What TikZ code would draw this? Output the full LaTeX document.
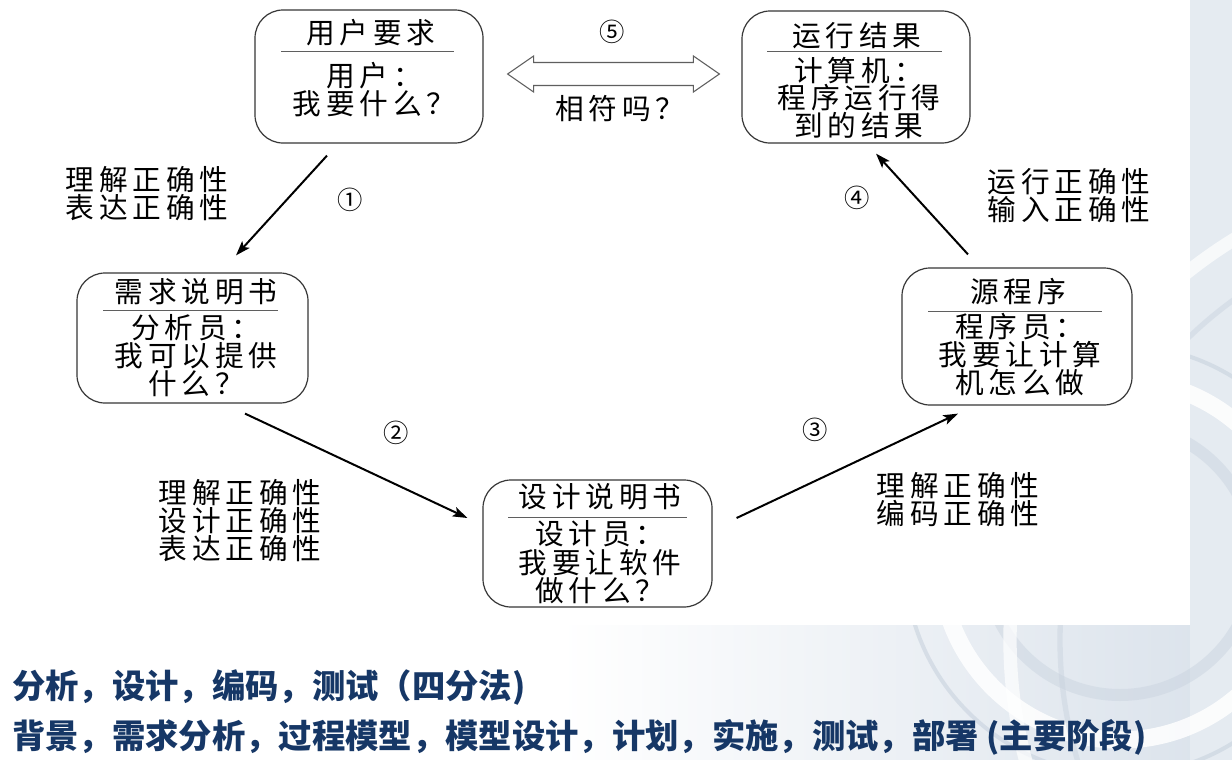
\documentclass[tikz,border=0pt]{standalone}
\usepackage{fontspec}
\setmainfont{Noto Sans CJK SC}
\newfontfamily\stagefont{Noto Sans CJK SC}[LetterSpace=17]
\usetikzlibrary{arrows.meta,calc}
\definecolor{edgegray}{RGB}{55,55,55}
\definecolor{rulegray}{RGB}{95,95,95}
\definecolor{navy}{RGB}{22,55,102}
\definecolor{bgblue}{RGB}{218,226,235}
\definecolor{ringdark}{RGB}{200,210,222}
\begin{document}
\begin{tikzpicture}[x=0.75pt,y=-0.75pt,
  stagebox/.style={draw=edgegray, line width=0.9pt, rounded corners=21pt, fill=white},
  divider/.style={draw=rulegray, line width=0.8pt},
  boxtext/.style={inner sep=0pt, align=center, font=\stagefont\fontsize{21.5pt}{#1}\selectfont},
  boxtext/.default={18.75pt},
  note/.style={inner sep=0pt, align=left, font=\stagefont\fontsize{21.5pt}{21pt}\selectfont},
  stepnum/.style={inner sep=0pt, font=\fontsize{19pt}{19pt}\selectfont},
  flow/.style={draw=black, line width=1.5pt, -{Stealth[length=11pt,width=7.5pt,inset=2.5pt]}},
  hollowarrow/.style={draw=rulegray, line width=0.8pt, fill=white, line join=miter},
  summary/.style={inner sep=0pt, anchor=west, text=navy, font=\bfseries\fontsize{25pt}{25pt}\selectfont}
]
\useasboundingbox (0,0) rectangle (1232,760);

% slide background with faint decorative rings
\fill[white] (0,0) rectangle (1232,760);
\fill[left color=white, right color=bgblue] (560,0) rectangle (1232,760);
\fill[bgblue!70!white] (1190,0) rectangle (1232,760);
\begin{scope}
  \clip (560,0) rectangle (1232,760);
  \draw[white, line width=13pt, opacity=0.85] (1120,560) circle[radius=180];
  \draw[ringdark, line width=3pt, opacity=0.6] (1120,560) circle[radius=215];
  \draw[ringdark, line width=9pt, opacity=0.45] (1120,560) circle[radius=135];
  \draw[white, line width=10pt, opacity=0.7] (1480,640) circle[radius=470];
  \draw[ringdark, line width=4pt, opacity=0.45] (1480,640) circle[radius=420];
\end{scope}
\fill[white] (0,0) rectangle (1190,625);

% the five stages
\node[stagebox, minimum width=171pt, minimum height=99.75pt] (A) at (369,76.5) {};
\node[stagebox, minimum width=171pt, minimum height=99pt] (B) at (856,77) {};
\node[stagebox, minimum width=173.25pt, minimum height=97.5pt] (C) at (192.5,338) {};
\node[stagebox, minimum width=171.75pt, minimum height=95.25pt] (D) at (597.5,543.5) {};
\node[stagebox, minimum width=172.5pt, minimum height=102.75pt] (E) at (1017,336.5) {};

% titles, rules and bodies
\node[boxtext] (At) at (371,33) {用户要求};
\draw[divider] ($(A.north)+(-88,42)$) -- ($(A.north)+(85,42)$);
\node[boxtext] (Ab) at (374,89.5) {用户：\\我要什么？};

\node[boxtext] (Bt) at (857,36) {运行结果};
\draw[divider] ($(B.north)+(-89,41)$) -- ($(B.north)+(86,41)$);
\node[boxtext] (Bb) at (859,98) {计算机：\\程序运行得\\到的结果};

\node[boxtext] (Ct) at (196,292) {需求说明书};
\draw[divider] ($(C.north)+(-89.5,38)$) -- ($(C.north)+(85.5,38)$);
\node[boxtext={19.1pt}] (Cb) at (196,355.5) {分析员：\\我可以提供\\什么？};

\node[boxtext] (Dt) at (600,497) {设计说明书};
\draw[divider] ($(D.north)+(-89.5,38)$) -- ($(D.north)+(89.5,38)$);
\node[boxtext={21.4pt}] (Db) at (600,562.5) {设计员：\\我要让软件\\做什么？};

\node[boxtext] (Et) at (1018,292) {源程序};
\draw[divider] ($(E.north)+(-89,44)$) -- ($(E.north)+(85,44)$);
\node[boxtext={19.9pt}] (Eb) at (1020,354.7) {程序员：\\我要让计算\\机怎么做};

% flow between stages
\coordinate (a1s) at ($(A.south)+(-42,12)$);
\coordinate (a1e) at ($(C.north)+(43.5,-17)$);
\coordinate (a2s) at ($(C.south)+(52.5,10)$);
\coordinate (a2e) at ($(D.west)+(-15,-25.5)$);
\coordinate (a3s) at ($(D.east)+(24,-25.5)$);
\coordinate (a3e) at ($(E.south)+(-59,8)$);
\coordinate (a4s) at ($(E.north)+(-49,-13)$);
\coordinate (a4e) at ($(B.south)+(20,10)$);
\draw[flow] (a1s) -- (a1e);
\draw[flow] (a2s) -- (a2e);
\draw[flow] (a3s) -- (a3e);
\draw[flow] (a4s) -- (a4e);

% two-headed comparison arrow
\coordinate (dl) at ($(A.east)+(24,-2.5)$);
\coordinate (dr) at ($(B.west)+(-22,-3)$);
\draw[hollowarrow] (dl) -- ++(26,-18) -- ++(0,6.5) -- ($(dr)+(-26,-11.5)$) -- ++(0,-6.5)
  -- (dr) -- ++(-26,18) -- ++(0,-6.5) -- ($(dl)+(26,11.5)$) -- ++(0,6.5) -- cycle;

% step numbers
\node[stepnum] (n1) at (350,200) {①};
\node[stepnum] (n2) at (396,433) {②};
\node[stepnum] (n3) at (815,430) {③};
\node[stepnum] (n4) at (857,198) {④};
\node[stepnum] (n5) at (612,32) {⑤};

% correctness notes
\node[note] (l1) at (147,194) {理解正确性\\表达正确性};
\node[note] (l2) at (240,520.5) {理解正确性\\设计正确性\\表达正确性};
\node[note] (l3) at (958,500) {理解正确性\\编码正确性};
\node[note] (l4) at (1069,195.5) {运行正确性\\输入正确性};
\node[boxtext] (q) at (620,109) {相符吗？};

% summary lines
\node[summary] (s1) at (12,688) {分析，设计，编码，测试（四分法)};
\node[summary] (s2) at (12,737) {背景，需求分析，过程模型，模型设计，计划，实施，测试，部署 (主要阶段)};
\end{tikzpicture}
\end{document}
